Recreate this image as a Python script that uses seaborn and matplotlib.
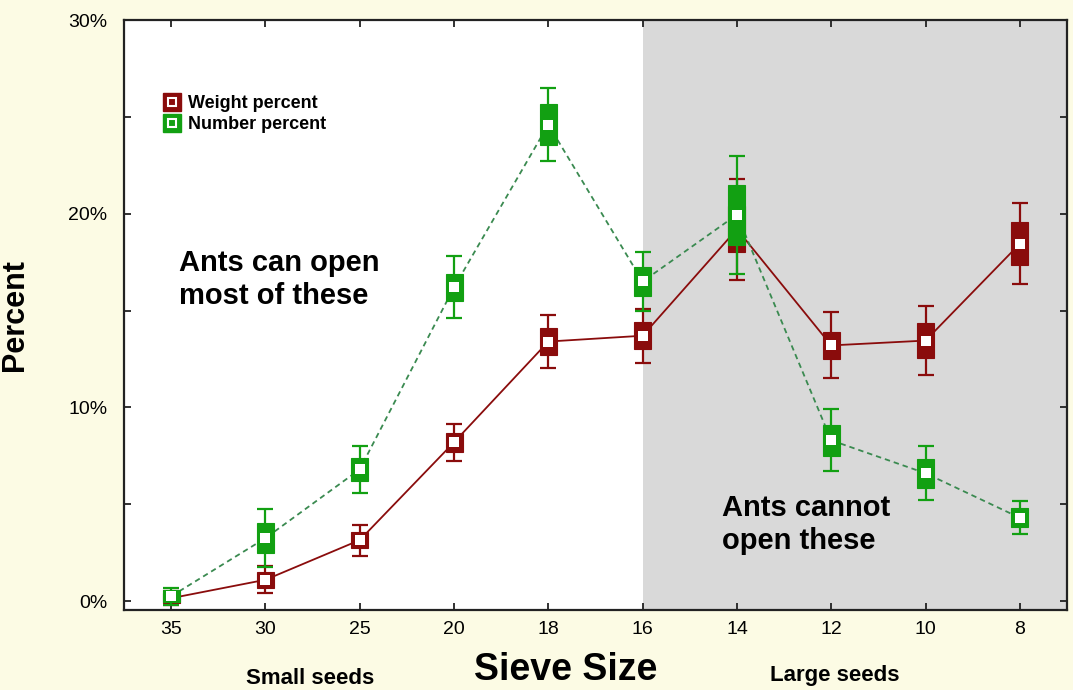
import matplotlib
matplotlib.use("Agg")
import matplotlib.pyplot as plt
from matplotlib.lines import Line2D
from matplotlib.legend_handler import HandlerTuple
from matplotlib.ticker import MultipleLocator, FuncFormatter
import seaborn as sns
import pandas as pd

# sieve sizes, small seeds on the left
sieve_sizes = ["35", "30", "25", "20", "18", "16", "14", "12", "10", "8"]

# weight percent: mean, box half-height, whisker half-height
weight_mean = [0.15, 1.1, 3.15, 8.2, 13.4, 13.7, 19.2, 13.2, 13.45, 18.45]
weight_box = [0.25, 0.4, 0.4, 0.5, 0.7, 0.7, 1.2, 0.7, 0.9, 1.1]
weight_whisk = [0.35, 0.7, 0.8, 0.95, 1.35, 1.4, 2.6, 1.7, 1.8, 2.1]

# number percent
number_mean = [0.25, 3.25, 6.8, 16.2, 24.6, 16.5, 19.95, 8.3, 6.6, 4.3]
number_box = [0.3, 0.78, 0.6, 0.7, 1.05, 0.75, 1.55, 0.8, 0.75, 0.5]
number_whisk = [0.45, 1.5, 1.2, 1.6, 1.9, 1.5, 3.05, 1.6, 1.4, 0.85]

RED = "#8a0c0c"
GREEN = "#12a012"
GREEN_LINE = "#3a8a50"

sns.set_theme(style="ticks")
plt.rcParams["font.family"] = ["Liberation Sans", "DejaVu Sans"]
plt.rcParams["text.color"] = "black"
plt.rcParams["axes.labelcolor"] = "black"

pos = list(range(len(sieve_sizes)))
df = pd.DataFrame({
    "pos": pos * 2,
    "mean": weight_mean + number_mean,
    "series": ["Weight percent"] * len(pos) + ["Number percent"] * len(pos),
})

fig = plt.figure(figsize=(10.73, 6.9), dpi=100, facecolor="#fcfbe4")
ax = fig.add_axes([124 / 1073, 1 - 610 / 690, 943 / 1073, 590 / 690])
ax.set_facecolor("white")

# shaded region for seeds the ants cannot open
ax.axvspan(5, 9.5, color="#d9d9d9", zorder=0, lw=0)

series = [
    ("Weight percent", weight_mean, weight_box, weight_whisk, RED, RED, "-", 2),
    ("Number percent", number_mean, number_box, number_whisk, GREEN, GREEN_LINE, (0, (3, 2.2)), 3),
]
for name, mean, box, whisk, col, lcol, ls, z in series:
    sns.lineplot(data=df[df["series"] == name], x="pos", y="mean", ax=ax,
                 color=lcol, linestyle=ls, linewidth=1.3, sort=False,
                 legend=False, zorder=z)
    ax.errorbar(pos, mean, yerr=whisk, fmt="none", ecolor=col,
                elinewidth=1.6, capsize=6, capthick=1.6, zorder=z + 0.1)
    ax.bar(pos, [2 * b for b in box], bottom=[m - b for m, b in zip(mean, box)],
           width=0.18, color=col, edgecolor=col, linewidth=0.8, zorder=z + 0.2)
    ax.plot(pos, mean, "s", color="white", markersize=6.5,
            markeredgewidth=0, zorder=z + 0.3)

ax.set_xlim(-0.5, 9.5)
ax.set_ylim(-0.46, 30)
ax.set_xticks(pos)
ax.set_xticklabels(sieve_sizes)
ax.yaxis.set_major_locator(MultipleLocator(10))
ax.yaxis.set_minor_locator(MultipleLocator(5))
ax.yaxis.set_major_formatter(FuncFormatter(lambda v, p: f"{v:.0f}%"))
ax.tick_params(which="both", direction="in", top=True, right=True,
               length=5, width=1.3, color="#222222", labelcolor="black",
               labelsize=14, pad=8)
ax.tick_params(axis="y", pad=12)
for s in ax.spines.values():
    s.set_linewidth(1.6)
    s.set_color("#222222")

ax.set_ylabel("Percent", fontsize=22, fontweight="bold")
ax.yaxis.set_label_coords(-0.1, 0.5)
ax.set_xlabel("Sieve Size", fontsize=27, fontweight="bold")
ax.xaxis.set_label_coords(0.468, -0.072)

fig.text(310 / 1073, 1 - 678 / 690, "Small seeds", ha="center", va="center",
         fontsize=16, fontweight="bold")
fig.text(835 / 1073, 1 - 675 / 690, "Large seeds", ha="center", va="center",
         fontsize=16, fontweight="bold")

ax.text(0.058, 0.56, "Ants can open\nmost of these", transform=ax.transAxes,
        fontsize=21, fontweight="bold", ha="left", va="center", linespacing=1.2)
ax.text(0.634, 0.145, "Ants cannot\nopen these", transform=ax.transAxes,
        fontsize=21, fontweight="bold", ha="left", va="center", linespacing=1.2)

handles = []
for col in (RED, GREEN):
    outer = Line2D([], [], marker="s", linestyle="none", markersize=13.5,
                   markerfacecolor=col, markeredgecolor=col)
    inner = Line2D([], [], marker="s", linestyle="none", markersize=5.5,
                   markerfacecolor=col, markeredgecolor="white", markeredgewidth=1.5)
    handles.append((outer, inner))
ax.legend(handles, ["Weight percent", "Number percent"],
          handler_map={tuple: HandlerTuple(ndivide=1, pad=0)},
          loc="upper left", bbox_to_anchor=(0.024, 0.9), frameon=False,
          handlelength=1.0, handletextpad=0.4, labelspacing=0.2,
          prop={"size": 13, "weight": "bold"})

fig.savefig("out.png", dpi=100, facecolor=fig.get_facecolor())
